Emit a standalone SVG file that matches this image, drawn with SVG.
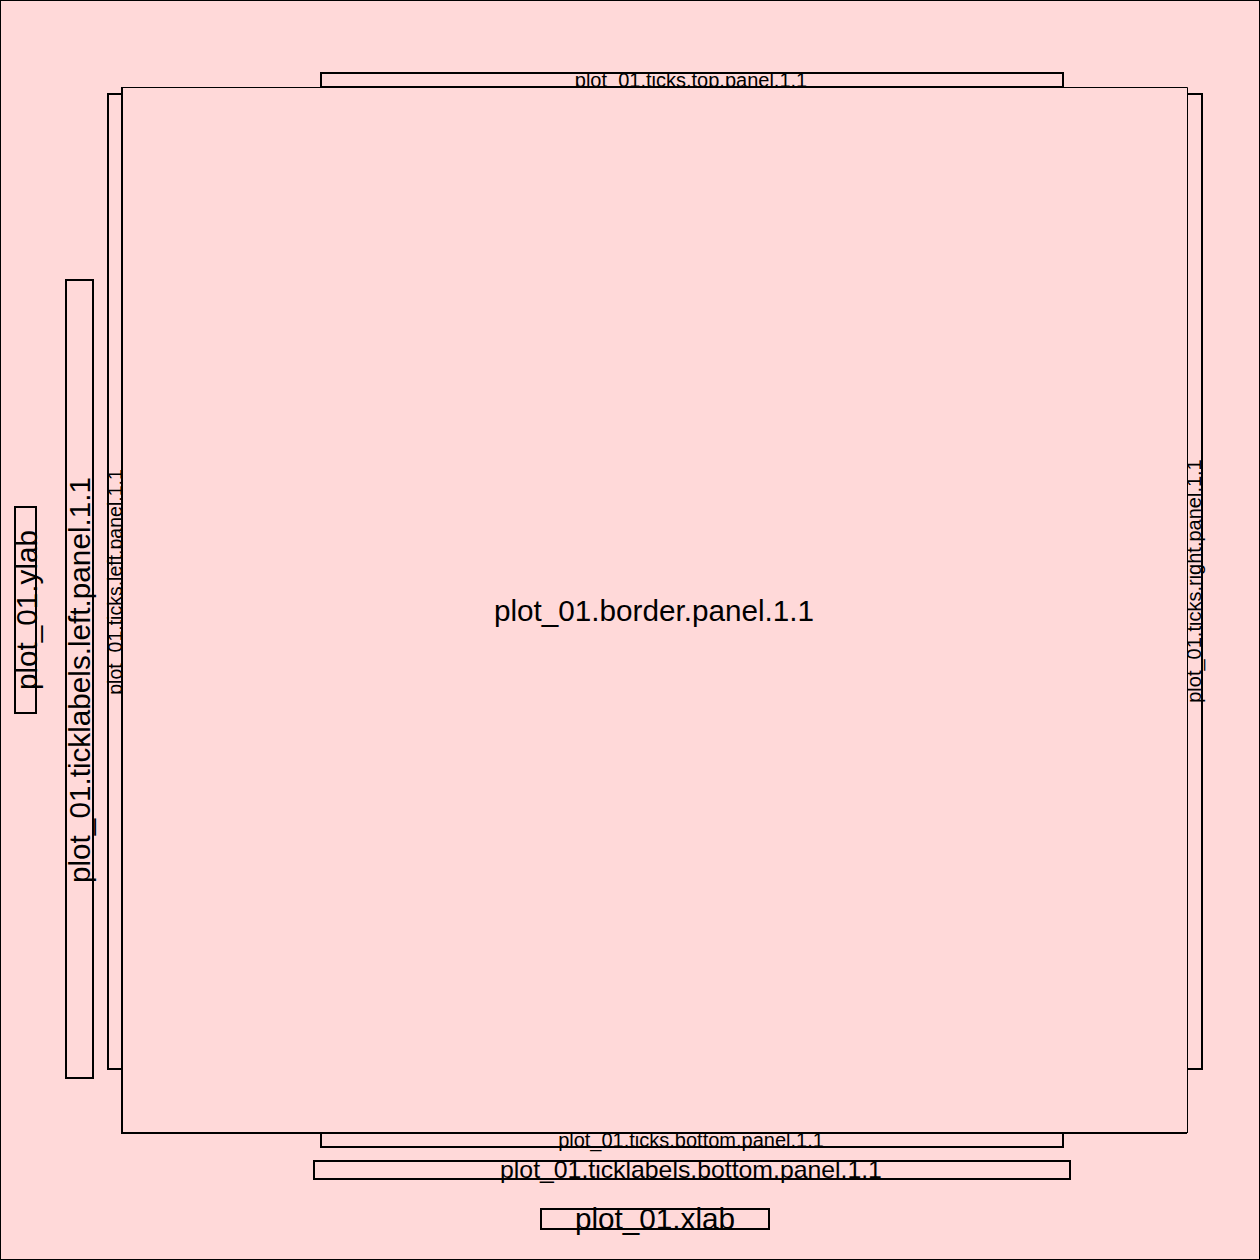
<svg xmlns="http://www.w3.org/2000/svg" width="1260" height="1260" viewBox="0 0 1260 1260">
<style>
.box{fill:#FFD9D9;stroke:#000;stroke-width:2}
.t{font-family:"Liberation Sans",Arial,sans-serif;fill:#000;text-anchor:middle}
</style>
<rect x="0.5" y="0.5" width="1259" height="1259" fill="#FFD9D9" stroke="#000" stroke-width="1"/>
<g id="ylab">
<rect class="box" x="15" y="507" width="21" height="206"/>
<text class="t" font-size="29.7" transform="translate(37,610) rotate(-90)">plot_01.ylab</text>
</g>
<g id="ticklabels-left">
<rect class="box" x="66" y="280" width="27" height="798"/>
<text class="t" font-size="29.7" transform="translate(90,680) rotate(-90)">plot_01.ticklabels.left.panel.1.1</text>
</g>
<g id="ticks-left">
<rect class="box" x="108" y="94" width="14" height="975"/>
<text class="t" font-size="19.5" transform="translate(122,582) rotate(-90)">plot_01.ticks.left.panel.1.1</text>
</g>
<g id="ticks-right">
<rect class="box" x="1187" y="94" width="15" height="975"/>
<text class="t" font-size="20" transform="translate(1201,581) rotate(-90)">plot_01.ticks.right.panel.1.1</text>
</g>
<g id="ticks-top">
<rect class="box" x="321" y="73" width="742" height="14"/>
<text class="t" font-size="20" x="691" y="87">plot_01.ticks.top.panel.1.1</text>
</g>
<g id="ticks-bottom">
<rect class="box" x="321" y="1133" width="742" height="14"/>
<text class="t" font-size="20" x="691" y="1147">plot_01.ticks.bottom.panel.1.1</text>
</g>
<g id="ticklabels-bottom">
<rect class="box" x="314" y="1161" width="756" height="18"/>
<text class="t" font-size="24.8" x="691" y="1178">plot_01.ticklabels.bottom.panel.1.1</text>
</g>
<g id="xlab">
<rect class="box" x="541" y="1209" width="228" height="20"/>
<text class="t" font-size="29.7" x="655" y="1229">plot_01.xlab</text>
</g>
<g id="border-panel">
<rect x="122" y="87" width="1065" height="1046" fill="#FFD9D9" stroke="none"/>
<path d="M122,87V1133H1187" fill="none" stroke="#000" stroke-width="2"/>
<path d="M122,87.5H1187.5V1133" fill="none" stroke="#000" stroke-width="1"/>
<text class="t" font-size="29.7" x="654" y="621">plot_01.border.panel.1.1</text>
</g>
<g id="connectors"/>
</svg>
